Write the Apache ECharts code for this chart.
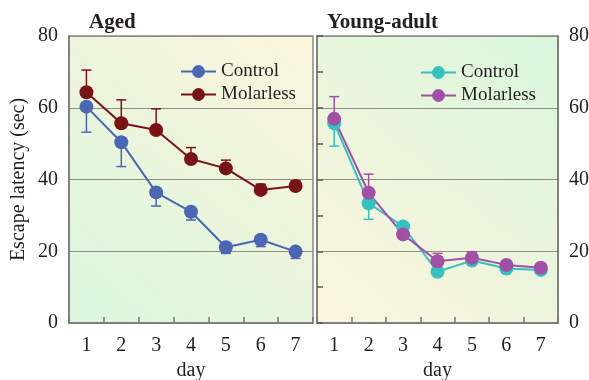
<!DOCTYPE html>
<html><head><meta charset="utf-8">
<script src="https://cdn.jsdelivr.net/npm/echarts@6/dist/echarts.min.js"></script>
<style>html,body{margin:0;padding:0;background:#fff}#c{width:589px;height:380px}</style>
</head><body><div id="c"></div>
<script>
const days = ['1','2','3','4','5','6','7'];
const yTicks = [0, 20, 40, 60, 80];
const agedControl = [60.3, 50.4, 36.4, 31.0, 21.1, 23.2, 19.9];
const agedControlErr = [7.1, 6.8, 3.8, 2.3, 1.7, 1.9, 1.9];
const agedMolarless = [64.3, 55.7, 53.8, 45.7, 43.1, 37.1, 38.2];
const agedMolarlessErr = [6.2, 6.5, 5.9, 3.2, 2.3, 1.6, 1.4];
const youngControl = [55.7, 33.4, 26.9, 14.3, 17.4, 15.2, 14.8];
const youngControlErr = [6.4, 4.5, 1.0, 1.0, 1.0, 1.0, 1.0];
const youngMolarless = [56.9, 36.3, 24.7, 17.2, 18.2, 16.2, 15.4];
const youngMolarlessErr = [6.2, 5.2, 1.0, 2.2, 1.6, 1.0, 1.0];

const FONT = 'Liberation Serif';
const TXT = '#231f20';
const C = {ac:'#4a66b5', am:'#7a1316', yc:'#33c2c0', ym:'#a24fa8'};

function errData(vals, errs, dir){ return vals.map((v,i)=>[i, v, errs[i], dir]); }
function errSeries(name, vals, errs, dir, color, axis){
  return {
    name: name + ' err', type:'custom', xAxisIndex:axis, yAxisIndex:axis, z:1, silent:true,
    data: errData(vals, errs, dir),
    renderItem(params, api){
      const x = api.value(0), v = api.value(1), e = api.value(2), d = api.value(3);
      const p0 = api.coord([x, v]); const p1 = api.coord([x, v + d*e]);
      const st = {stroke: color, lineWidth: 1.5};
      return {type:'group', children:[
        {type:'line', shape:{x1:p0[0],y1:p0[1],x2:p1[0],y2:p1[1]}, style:st},
        {type:'line', shape:{x1:p1[0]-5,y1:p1[1],x2:p1[0]+5,y2:p1[1]}, style:st}
      ]};
    }
  };
}
function lineSeries(name, vals, color, axis, size){
  return {name, type:'line', xAxisIndex:axis, yAxisIndex:axis, data: vals, z:3,
    symbol:'circle', symbolSize:size, itemStyle:{color}, lineStyle:{color, width:2}};
}
function grad(c1, c2){
  return {type:'linear', x:0, y:1, x2:1, y2:0,
    colorStops:[{offset:0,color:c1},{offset:1,color:c2}]};
}
const green = '#d9f7dc', cream = '#fcf4dc';
const xAxisBase = (gi)=>({
  type:'category', gridIndex:gi, data:days, boundaryGap:true,
  axisLine:{show:true, lineStyle:{color:'#777', width:1.5}},
  axisTick:{show:true, inside:true, length:6, lineStyle:{color:'#777', width:1.5}},
  axisLabel:{fontFamily:FONT, fontSize:20, color:TXT, margin:13},
  name:'day', nameLocation:'middle', nameGap:38,
  nameTextStyle:{fontFamily:FONT, fontSize:20, color:TXT},
  splitLine:{show:false}
});
const yAxisBase = (gi, pos)=>({
  type:'value', gridIndex:gi, min:0, max:80, interval:20, position:pos,
  axisLine:{show:true, lineStyle:{color:'#777', width:1.5}},
  axisTick:{show:false},
  axisLabel:{fontFamily:FONT, fontSize:20, color:TXT, margin:11,
    customValues: yTicks},
  splitLine:{show:true, lineStyle:{color:'#8e8e86', width:1}}
});

const option = {
  animation:false,
  backgroundColor:'#fff',
  title:[
    {text:'Aged', left:84, top:7, textStyle:{fontFamily:FONT, fontWeight:'bold', fontSize:21, color:TXT}},
    {text:'Young-adult', left:322, top:7, textStyle:{fontFamily:FONT, fontWeight:'bold', fontSize:21, color:TXT}}
  ],
  grid:[
    {left:69, top:36, width:244, height:287, show:true, borderColor:'#888', borderWidth:1.5,
      outerBoundsMode:'none', containLabel:false,
      backgroundColor: grad(green, cream)},
    {left:317, top:36, width:241, height:287, show:true, borderColor:'#888', borderWidth:1.5,
      outerBoundsMode:'none', containLabel:false,
      backgroundColor: grad(cream, green)}
  ],
  legend:[
    {data:['Aged Control','Aged Molarless'], left:175, top:57, orient:'vertical', itemWidth:35, itemHeight:16, itemGap:4,
      formatter:n=>n.replace(/^Aged /,''), textStyle:{fontFamily:FONT, fontSize:19, color:TXT}},
    {data:['Young Control','Young Molarless'], left:415, top:58, orient:'vertical', itemWidth:35, itemHeight:16, itemGap:4,
      formatter:n=>n.replace(/^Young /,''), textStyle:{fontFamily:FONT, fontSize:19, color:TXT}}
  ],
  xAxis:[xAxisBase(0), xAxisBase(1)],
  yAxis:[
    Object.assign(yAxisBase(0,'left'), {name:'Escape latency (sec)', nameLocation:'middle', nameGap:40,
      nameTextStyle:{fontFamily:FONT, fontSize:20, color:TXT}}),
    yAxisBase(1,'right'),
    {type:'value', gridIndex:1, min:0, max:80, interval:10, position:'left',
      axisLine:{show:true, lineStyle:{color:'#777', width:1.5}},
      axisTick:{show:true, inside:true, length:6, lineStyle:{color:'#555', width:1.5}},
      axisLabel:{show:false}, splitLine:{show:false}}
  ],
  series:[
    errSeries('Aged Control', agedControl, agedControlErr, -1, C.ac, 0),
    errSeries('Aged Molarless', agedMolarless, agedMolarlessErr, 1, C.am, 0),
    lineSeries('Aged Control', agedControl, C.ac, 0, 14),
    lineSeries('Aged Molarless', agedMolarless, C.am, 0, 14),
    errSeries('Young Control', youngControl, youngControlErr, -1, C.yc, 1),
    errSeries('Young Molarless', youngMolarless, youngMolarlessErr, 1, C.ym, 1),
    lineSeries('Young Control', youngControl, C.yc, 1, 14),
    lineSeries('Young Molarless', youngMolarless, C.ym, 1, 14)
  ]
};
const chart = echarts.init(document.getElementById('c'), null, {renderer:'canvas'});
chart.setOption(option);
</script></body></html>
